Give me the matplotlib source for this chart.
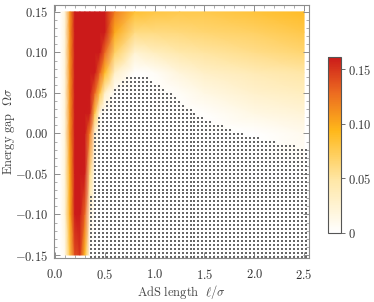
import numpy as np
import matplotlib
matplotlib.use("Agg")
import matplotlib.pyplot as plt
from matplotlib.colors import LinearSegmentedColormap, Normalize
from matplotlib.path import Path
from matplotlib.ticker import MultipleLocator, FixedLocator

plt.rcParams['mathtext.fontset'] = 'cm'
plt.rcParams['font.family'] = ['DejaVu Serif']

# grid nodes (AdS length, energy gap)
ell = [0.05, 0.10, 0.15, 0.20, 0.25, 0.30, 0.35, 0.40, 0.45, 0.50, 0.60, 0.80, 1.00, 1.25, 1.50, 2.00, 2.50]
omega = [-0.15, -0.10, -0.05, 0.0, 0.025, 0.05, 0.075, 0.10, 0.125, 0.15]

# values per energy-gap row
z_m150 = [0, 0.01, 0.08, 0.14, 0.15, 0.09, 0.00, 0, 0, 0, 0, 0, 0, 0, 0, 0, 0]
z_m100 = [0, 0.02, 0.10, 0.17, 0.18, 0.13, 0.02, 0, 0, 0, 0, 0, 0, 0, 0, 0, 0]
z_m050 = [0, 0.02, 0.10, 0.18, 0.19, 0.16, 0.06, 0, 0, 0, 0, 0, 0, 0, 0, 0, 0]
z_p000 = [0, 0.02, 0.11, 0.19, 0.20, 0.19, 0.12, 0.02, 0, 0, 0, 0, 0, 0, 0, 0.0, 0.01]
z_p025 = [0, 0.02, 0.11, 0.19, 0.20, 0.20, 0.16, 0.08, 0.01, 0, 0, 0, 0, 0, 0.002, 0.015, 0.022]
z_p050 = [0, 0.02, 0.11, 0.19, 0.20, 0.20, 0.18, 0.13, 0.08, 0.03, 0, 0, 0, 0.005, 0.015, 0.028, 0.035]
z_p075 = [0, 0.02, 0.11, 0.19, 0.20, 0.20, 0.20, 0.17, 0.13, 0.09, 0.03, 0, 0.005, 0.02, 0.03, 0.04, 0.048]
z_p100 = [0, 0.02, 0.11, 0.18, 0.20, 0.20, 0.20, 0.20, 0.17, 0.13, 0.07, 0.025, 0.035, 0.045, 0.05, 0.058, 0.065]
z_p125 = [0, 0.02, 0.11, 0.18, 0.20, 0.20, 0.20, 0.20, 0.20, 0.17, 0.10, 0.06, 0.06, 0.062, 0.065, 0.07, 0.078]
z_p150 = [0, 0.02, 0.11, 0.18, 0.20, 0.20, 0.20, 0.20, 0.20, 0.20, 0.12, 0.085, 0.08, 0.077, 0.077, 0.083, 0.09]

# boundary of the dotted (zero) region
edge_ell = [0.32, 0.33, 0.35, 0.37, 0.40, 0.44, 0.48, 0.57, 0.67, 0.75, 0.88, 1.02, 1.14, 1.22, 1.34, 1.46,
            1.62, 1.80, 2.00, 2.20, 2.40, 2.60, 2.60]
edge_omega = [-0.16, -0.15, -0.10, -0.05, 0.0, 0.02, 0.03, 0.05, 0.062, 0.072, 0.072, 0.061, 0.051, 0.041,
              0.032, 0.022, 0.012, 0.004, -0.004, -0.010, -0.015, -0.020, -0.16]

Z = np.vstack([z_m150, z_m100, z_m050, z_p000, z_p025, z_p050, z_p075, z_p100, z_p125, z_p150])

cmap = LinearSegmentedColormap.from_list(
    "heat", [(0.0, "#ffffff"), (0.3, "#ffe7a6"), (0.58, "#ffb81a"), (0.8, "#ec6a20"), (1.0, "#cb1a1a")])
cmap.set_over("#cb1a1a")
norm = Normalize(vmin=0, vmax=0.1615)

fig = plt.figure(figsize=(3.74, 3.02), dpi=100)
ax = fig.add_axes([0.1444, 0.1457, 0.682, 0.838])
mesh = ax.pcolormesh(ell, omega, Z, shading='gouraud', cmap=cmap, norm=norm, zorder=1)

# dot pattern over the zero region
gx, gy = np.meshgrid(np.arange(0.0, 2.56, 0.04), np.arange(-0.1525, 0.16, 0.0049))
pts = np.column_stack([gx.ravel(), gy.ravel()])
inside = Path(np.column_stack([edge_ell, edge_omega])).contains_points(pts)
ax.scatter(pts[inside, 0], pts[inside, 1], s=0.8, marker='s', c='#666666', linewidths=0, zorder=2)

ax.set_xlim(-0.01, 2.55)
ax.set_ylim(-0.1537, 0.1586)

fc = '#8c8c8c'
for sp in ax.spines.values():
    sp.set_color(fc)
    sp.set_linewidth(0.8)
ax.xaxis.set_major_locator(FixedLocator([0, 0.5, 1.0, 1.5, 2.0, 2.5]))
ax.xaxis.set_minor_locator(MultipleLocator(0.1))
ax.yaxis.set_major_locator(FixedLocator([-0.15, -0.10, -0.05, 0.0, 0.05, 0.10, 0.15]))
ax.yaxis.set_minor_locator(MultipleLocator(0.01))
ax.set_xticklabels([r'$0.0$', r'$0.5$', r'$1.0$', r'$1.5$', r'$2.0$', r'$2.5$'])
ax.set_yticklabels([r'$-0.15$', r'$-0.10$', r'$-0.05$', r'$0.00$', r'$0.05$', r'$0.10$', r'$0.15$'])
ax.tick_params(which='both', direction='in', top=True, right=True, color=fc, labelsize=9,
               labelcolor='#333333')
ax.tick_params(which='major', length=4, width=0.7)
ax.tick_params(axis='x', which='major', pad=7)
ax.tick_params(axis='y', which='major', pad=4)
ax.tick_params(which='minor', length=2, width=0.5)
ax.set_xlabel(r'$\mathrm{AdS\ length}\ \ \ell/\sigma$', fontsize=9, color='#444444')
ax.xaxis.set_label_coords(0.5, -0.10)
ax.set_ylabel(r'$\mathrm{Energy\ gap}\ \ \Omega\sigma$', fontsize=9, color='#444444')
ax.yaxis.set_label_coords(-0.145, 0.5)

cax = fig.add_axes([0.877, 0.2285, 0.035, 0.583])
cb = fig.colorbar(mesh, cax=cax, ticks=[0, 0.05, 0.10, 0.15])
cb.ax.set_yticklabels([r'$0$', r'$0.05$', r'$0.10$', r'$0.15$'])
cb.ax.tick_params(labelsize=9, length=3, width=0.6, color='#555555', labelcolor='#333333', pad=2)
cb.outline.set_edgecolor('#555555')
cb.outline.set_linewidth(0.8)

fig.savefig("out.png", dpi=100)
